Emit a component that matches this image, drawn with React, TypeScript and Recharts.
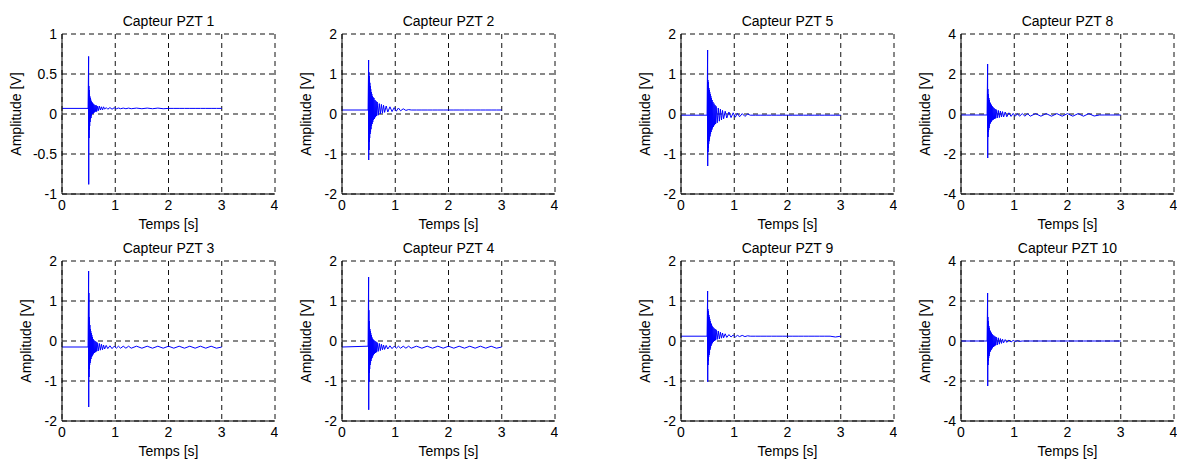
import { LineChart, Line, XAxis, YAxis, CartesianGrid } from "recharts"

// shared time grid [s]
const temps = [
  0, 0.49, 0.5, 0.502, 0.505, 0.508, 0.511, 0.514, 0.517, 0.52,
  0.524, 0.528, 0.532, 0.536, 0.54, 0.545, 0.55, 0.555, 0.56, 0.566,
  0.572, 0.578, 0.584, 0.59, 0.6, 0.61, 0.62, 0.63, 0.64, 0.65,
  0.66, 0.68, 0.7, 0.72, 0.74, 0.76, 0.78, 0.8, 0.83, 0.86,
  0.9, 0.94, 0.98, 1.02, 1.06, 1.1, 1.15, 1.2, 1.25, 1.3,
  1.4, 1.5, 1.6, 1.7, 1.8, 1.9, 2.0, 2.1, 2.2, 2.3,
  2.4, 2.5, 2.6, 2.7, 2.8, 2.9, 3.0
]

// amplitudes [V], one per time sample
const pzt1 = [
  0.07, 0.07, 0.72, -0.88, 0.35, -0.3, 0.3, -0.2, 0.25, -0.15,
  0.22, -0.1, 0.2, -0.06, 0.18, -0.05, 0.16, -0.02, 0.15, 0.0,
  0.14, 0.0, 0.13, 0.01, 0.12, 0.02, 0.11, 0.03, 0.11, 0.03,
  0.1, 0.04, 0.1, 0.05, 0.09, 0.05, 0.09, 0.06, 0.08, 0.06,
  0.08, 0.06, 0.078, 0.065, 0.075, 0.066, 0.074, 0.066, 0.074, 0.066,
  0.074, 0.066, 0.074, 0.066, 0.074, 0.066, 0.07, 0.07, 0.07, 0.07,
  0.07, 0.07, 0.07, 0.07, 0.07, 0.07, 0.07
]

const pzt2 = [
  0.1, 0.1, 1.35, -1.15, 1.05, -0.9, 0.95, -0.7, 0.85, -0.6,
  0.78, -0.5, 0.7, -0.45, 0.62, -0.38, 0.55, -0.3, 0.5, -0.25,
  0.45, -0.2, 0.42, -0.15, 0.4, -0.12, 0.35, -0.08, 0.32, -0.05,
  0.3, -0.03, 0.26, 0.0, 0.24, 0.02, 0.22, 0.04, 0.2, 0.05,
  0.18, 0.06, 0.16, 0.07, 0.15, 0.08, 0.13, 0.09, 0.11, 0.1,
  0.1, 0.1, 0.1, 0.1, 0.1, 0.1, 0.1, 0.1, 0.1, 0.1,
  0.1, 0.1, 0.1, 0.1, 0.1, 0.1, 0.1
]

const pzt3 = [
  -0.15, -0.15, 1.75, -1.65, 1.2, -0.9, 0.6, -0.7, 0.5, -0.6,
  0.4, -0.55, 0.3, -0.5, 0.25, -0.45, 0.2, -0.4, 0.15, -0.38,
  0.1, -0.35, 0.05, -0.32, 0.02, -0.3, 0.0, -0.28, -0.02, -0.26,
  -0.04, -0.25, -0.06, -0.23, -0.08, -0.22, -0.1, -0.2, -0.11, -0.19,
  -0.12, -0.19, -0.13, -0.18, -0.13, -0.18, -0.13, -0.18, -0.13, -0.18,
  -0.13, -0.18, -0.13, -0.18, -0.13, -0.18, -0.13, -0.18, -0.13, -0.18,
  -0.13, -0.18, -0.13, -0.18, -0.13, -0.18, -0.15
]

const pzt4 = [
  -0.15, -0.13, 1.6, -1.72, 0.77, -1.02, 0.5, -0.8, 0.35, -0.7,
  0.3, -0.6, 0.25, -0.55, 0.2, -0.5, 0.15, -0.45, 0.1, -0.42,
  0.06, -0.38, 0.04, -0.35, 0.02, -0.32, 0.0, -0.3, -0.02, -0.28,
  -0.04, -0.26, -0.06, -0.24, -0.08, -0.22, -0.1, -0.21, -0.11, -0.2,
  -0.12, -0.19, -0.13, -0.18, -0.13, -0.18, -0.13, -0.18, -0.13, -0.18,
  -0.13, -0.18, -0.13, -0.18, -0.13, -0.18, -0.13, -0.18, -0.13, -0.18,
  -0.13, -0.18, -0.13, -0.18, -0.13, -0.18, -0.15
]

const pzt5 = [
  -0.03, -0.03, 1.6, -1.3, 0.85, -0.95, 0.8, -0.85, 0.7, -0.75,
  0.65, -0.68, 0.6, -0.62, 0.55, -0.56, 0.5, -0.5, 0.45, -0.45,
  0.4, -0.4, 0.35, -0.36, 0.3, -0.32, 0.26, -0.28, 0.22, -0.25,
  0.19, -0.22, 0.15, -0.18, 0.12, -0.15, 0.09, -0.12, 0.07, -0.1,
  0.05, -0.09, 0.03, -0.08, 0.02, -0.07, 0.01, -0.06, 0.0, -0.03,
  -0.03, -0.03, -0.03, -0.03, -0.03, -0.03, -0.03, -0.03, -0.03, -0.03,
  -0.03, -0.03, -0.03, -0.03, -0.03, -0.03, -0.03
]

const pzt8 = [
  -0.05, -0.05, 2.5, -2.2, 1.25, -1.15, 1.0, -0.9, 0.9, -0.8,
  0.8, -0.7, 0.7, -0.6, 0.6, -0.5, 0.55, -0.45, 0.5, -0.4,
  0.45, -0.35, 0.4, -0.3, 0.35, -0.28, 0.3, -0.25, 0.25, -0.22,
  0.22, -0.2, 0.18, -0.18, 0.15, -0.15, 0.12, -0.15, 0.1, -0.14,
  0.06, -0.12, 0.03, -0.11, 0.02, -0.11, 0.02, -0.11, 0.02, -0.11,
  0.02, -0.11, 0.02, -0.11, 0.02, -0.11, 0.02, -0.11, 0.02, -0.11,
  0.02, -0.1, -0.05, -0.05, -0.05, -0.05, -0.05
]

const pzt9 = [
  0.12, 0.12, 1.25, -1.02, 0.8, -0.6, 0.75, -0.5, 0.7, -0.4,
  0.65, -0.35, 0.6, -0.3, 0.55, -0.22, 0.5, -0.18, 0.45, -0.12,
  0.42, -0.08, 0.38, -0.05, 0.35, -0.02, 0.32, 0.0, 0.3, 0.02,
  0.28, 0.04, 0.25, 0.05, 0.22, 0.07, 0.2, 0.08, 0.18, 0.09,
  0.16, 0.1, 0.15, 0.1, 0.14, 0.11, 0.14, 0.11, 0.13, 0.12,
  0.12, 0.12, 0.12, 0.12, 0.12, 0.12, 0.12, 0.12, 0.12, 0.12,
  0.12, 0.12, 0.12, 0.12, 0.12, 0.1, 0.12
]

const pzt10 = [
  0, 0, 2.4, -2.25, 1.2, -1.2, 1.0, -1.0, 0.9, -0.85,
  0.75, -0.75, 0.65, -0.65, 0.55, -0.55, 0.5, -0.5, 0.45, -0.45,
  0.4, -0.4, 0.35, -0.35, 0.3, -0.3, 0.26, -0.26, 0.22, -0.22,
  0.2, -0.2, 0.16, -0.16, 0.12, -0.12, 0.09, -0.09, 0.07, -0.07,
  0.05, -0.05, 0.03, -0.03, 0.02, -0.02, 0, 0, 0, 0,
  0, 0, 0, 0, 0, 0, 0, 0, 0, 0,
  0, 0, 0, 0, 0, 0, 0
]

const xTicks = [0, 1, 2, 3, 4]
const yTicks1 = [-1, -0.5, 0, 0.5, 1]
const yTicks2 = [-2, -1, 0, 1, 2]
const yTicks4 = [-4, -2, 0, 2, 4]

const FONT = 14
const PLOT_W = 213
const PLOT_H = 160
const AXIS_W = 60
const TOP = 34

type Panel = {
  title: string
  values: number[]
  yTicks: number[]
  left: number
  top: number
  labelGap: number
}

const panels: Panel[] = [
  { title: "Capteur PZT 1", values: pzt1, yTicks: yTicks1, left: 62, top: 34, labelGap: 41 },
  { title: "Capteur PZT 2", values: pzt2, yTicks: yTicks2, left: 342, top: 34, labelGap: 31 },
  { title: "Capteur PZT 5", values: pzt5, yTicks: yTicks2, left: 681, top: 34, labelGap: 31 },
  { title: "Capteur PZT 8", values: pzt8, yTicks: yTicks4, left: 961, top: 34, labelGap: 31 },
  { title: "Capteur PZT 3", values: pzt3, yTicks: yTicks2, left: 62, top: 261, labelGap: 31 },
  { title: "Capteur PZT 4", values: pzt4, yTicks: yTicks2, left: 342, top: 261, labelGap: 31 },
  { title: "Capteur PZT 9", values: pzt9, yTicks: yTicks2, left: 681, top: 261, labelGap: 31 },
  { title: "Capteur PZT 10", values: pzt10, yTicks: yTicks4, left: 961, top: 261, labelGap: 31 }
]

function SensorPlot({ panel }: { panel: Panel }) {
  const data = temps.map((t, i) => ({ t, v: panel.values[i] }))
  const yMin = panel.yTicks[0]
  const yMax = panel.yTicks[panel.yTicks.length - 1]

  return (
    <div style={{ position: "absolute", left: panel.left - AXIS_W, top: panel.top - TOP }}>
      <LineChart
        width={AXIS_W + PLOT_W + 3}
        height={TOP + PLOT_H + 40}
        data={data}
        margin={{ top: TOP, right: 3, bottom: 0, left: 0 }}
      >
        <CartesianGrid stroke="#111" strokeDasharray="5 4" />

        <XAxis
          dataKey="t"
          type="number"
          domain={[0, 4]}
          ticks={xTicks}
          height={40}
          tickLine={false}
          tickSize={4}
          tickMargin={2}
          axisLine={{ stroke: "#000" }}
          tick={{ fill: "#000", fontSize: FONT }}
          label={(p: any) => (
            <text
              x={p.viewBox.x + p.viewBox.width / 2}
              y={p.viewBox.y + 35}
              textAnchor="middle"
              fontSize={FONT}
              fill="#000"
            >
              Temps [s]
            </text>
          )}
        />
        <XAxis
          xAxisId="top"
          orientation="top"
          dataKey="t"
          type="number"
          domain={[0, 4]}
          ticks={xTicks}
          height={0}
          tick={false}
          tickLine={false}
          axisLine={{ stroke: "#000" }}
        />

        <YAxis
          type="number"
          domain={[yMin, yMax]}
          ticks={panel.yTicks}
          width={AXIS_W}
          tickLine={false}
          tickSize={3}
          tickMargin={2}
          axisLine={{ stroke: "#000" }}
          tick={{ fill: "#000", fontSize: FONT }}
          label={(p: any) => {
            const x = p.viewBox.x + p.viewBox.width - panel.labelGap
            const y = p.viewBox.y + p.viewBox.height / 2
            return (
              <text
                x={x}
                y={y}
                transform={`rotate(-90, ${x}, ${y})`}
                textAnchor="middle"
                fontSize={FONT}
                fill="#000"
              >
                Amplitude [V]
              </text>
            )
          }}
        />
        <YAxis
          yAxisId="right"
          orientation="right"
          type="number"
          domain={[yMin, yMax]}
          width={0}
          tick={false}
          tickLine={false}
          axisLine={{ stroke: "#000" }}
        />

        <Line
          dataKey="v"
          type="linear"
          stroke="#0000ff"
          strokeWidth={1}
          dot={false}
          isAnimationActive={false}
        />
      </LineChart>
    </div>
  )
}

export default function App() {
  return (
    <div
      style={{
        position: "absolute",
        left: 0,
        top: 0,
        width: 1177,
        height: 462,
        overflow: "hidden",
        background: "#fff",
        fontFamily: "'Liberation Sans', Arial, sans-serif"
      }}
    >
      {panels.map((p) => (
        <SensorPlot key={p.title} panel={p} />
      ))}
      <svg
        width={1177}
        height={462}
        style={{ position: "absolute", left: 0, top: 0, pointerEvents: "none" }}
      >
        {panels.map((p) => (
          <text
            key={p.title}
            x={p.left + PLOT_W / 2}
            y={p.top - 8.5}
            textAnchor="middle"
            fontSize={FONT}
            fill="#000"
          >
            {p.title}
          </text>
        ))}
      </svg>
    </div>
  )
}
